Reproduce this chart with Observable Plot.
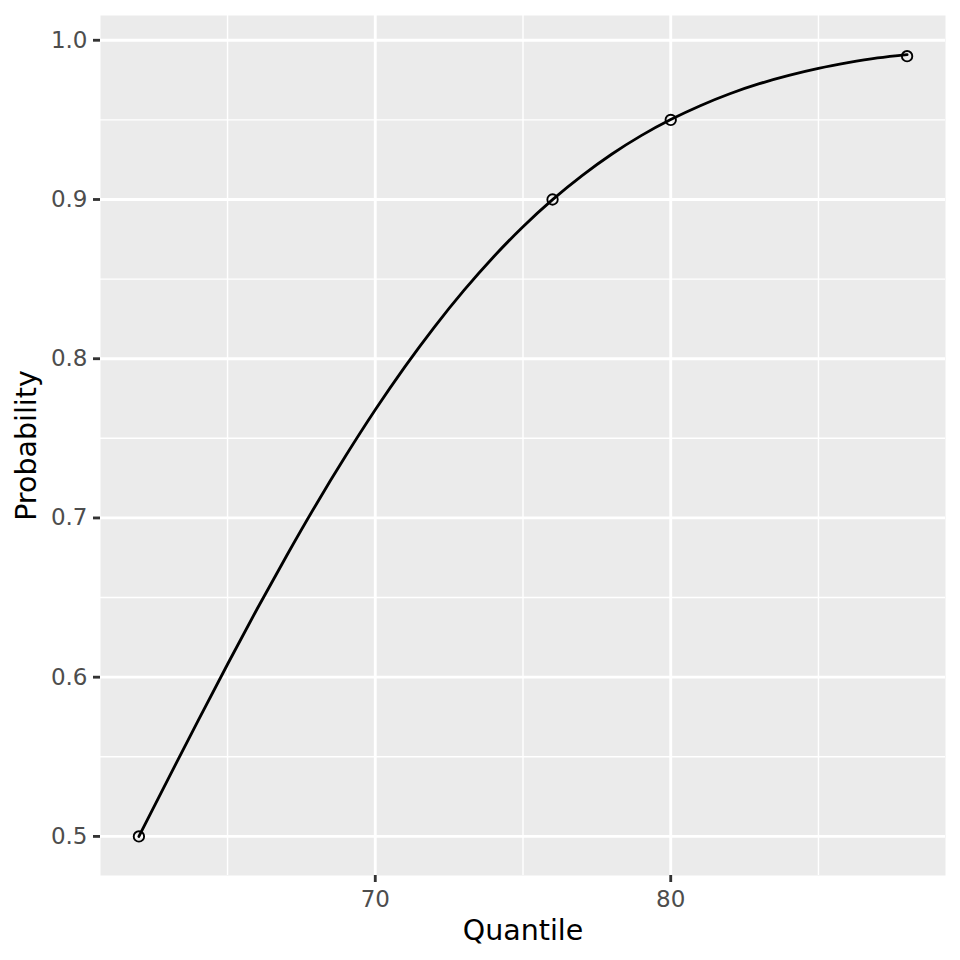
<!DOCTYPE html>
<html>
<head>
<meta charset="utf-8">
<script src="https://cdn.jsdelivr.net/npm/d3@7"></script>
<script src="https://cdn.jsdelivr.net/npm/@observablehq/plot@0.6"></script>
<style>
  html, body { margin: 0; padding: 0; background: #fff; }
  #chart { width: 960px; height: 960px; }
</style>
</head>
<body>
<div id="chart"></div>
<script>
// Elicited points (quantile, probability)
const pointQuantiles = [62, 76, 80, 88];
const pointProbs = [0.5, 0.9, 0.95, 0.99];

// Fitted curve at each unit of the quantile axis
const curveQuantiles = [62, 63, 64, 65, 66, 67, 68, 69, 70, 71, 72, 73, 74, 75,
  76, 77, 78, 79, 80, 81, 82, 83, 84, 85, 86, 87, 88];
const curveProbs = [0.5000, 0.5365, 0.5726, 0.6081, 0.6428, 0.6763, 0.7085, 0.7390,
  0.7679, 0.7949, 0.8199, 0.8429, 0.8639, 0.8829, 0.8999, 0.9150, 0.9284, 0.9401,
  0.9502, 0.9589, 0.9664, 0.9727, 0.9779, 0.9823, 0.9859, 0.9889, 0.9910];

// Axis ticks
const xMajor = [70, 80];
const xMinor = [65, 75, 85];
const yMajor = [0.5, 0.6, 0.7, 0.8, 0.9, 1.0];
const yMinor = [0.55, 0.65, 0.75, 0.85, 0.95];

const xTitle = "Quantile";
const yTitle = "Probability";

const points = pointQuantiles.map((q, i) => ({q, p: pointProbs[i]}));
const curve = curveQuantiles.map((q, i) => ({q, p: curveProbs[i]}));

// ggplot-like 5% expansion
function expand(vals) {
  const lo = d3.min(vals), hi = d3.max(vals), r = hi - lo;
  return [lo - 0.05 * r, hi + 0.05 * r];
}
const xDomain = expand(pointQuantiles.concat(curveQuantiles));
const yDomain = expand(pointProbs.concat(curveProbs));

const major = 2.84, minor = 1.42;

const chart = Plot.plot({
  width: 960,
  height: 960,
  marginLeft: 100,
  marginRight: 15,
  marginTop: 15,
  marginBottom: 85,
  style: {fontFamily: "DejaVu Sans", background: "#fff"},
  x: {domain: xDomain},
  y: {domain: yDomain},
  marks: [
    Plot.frame({fill: "#EBEBEB", stroke: null}),
    Plot.gridX(xMinor, {stroke: "white", strokeOpacity: 1, strokeWidth: minor}),
    Plot.gridY(yMinor, {stroke: "white", strokeOpacity: 1, strokeWidth: minor}),
    Plot.gridX(xMajor, {stroke: "white", strokeOpacity: 1, strokeWidth: major}),
    Plot.gridY(yMajor, {stroke: "white", strokeOpacity: 1, strokeWidth: major}),
    Plot.axisX({ticks: xMajor, tickSize: 7, tickPadding: 8, fontSize: 23, label: null,
      stroke: "#333333", strokeWidth: major, fill: "#4D4D4D", tickFormat: d => String(d)}),
    Plot.axisY({ticks: yMajor, tickSize: 7, tickPadding: 6, fontSize: 23, label: null,
      stroke: "#333333", strokeWidth: major, fill: "#4D4D4D", tickFormat: d => d.toFixed(1)}),
    Plot.line(curve, {x: "q", y: "p", curve: "natural", stroke: "black", strokeWidth: major}),
    Plot.dot(points, {x: "q", y: "p", r: 5.2, stroke: "black", strokeWidth: 1.9, fill: "none"}),
    Plot.text([xTitle], {text: d => d, frameAnchor: "bottom", lineAnchor: "middle", textAnchor: "middle",
      dy: 55, fontSize: 28.5, fill: "black"}),
    Plot.text([yTitle], {text: d => d, frameAnchor: "left", lineAnchor: "middle", textAnchor: "middle",
      dx: -74, rotate: -90, fontSize: 28.5, fill: "black"})
  ]
});
document.getElementById("chart").appendChild(chart);
</script>
</body>
</html>
